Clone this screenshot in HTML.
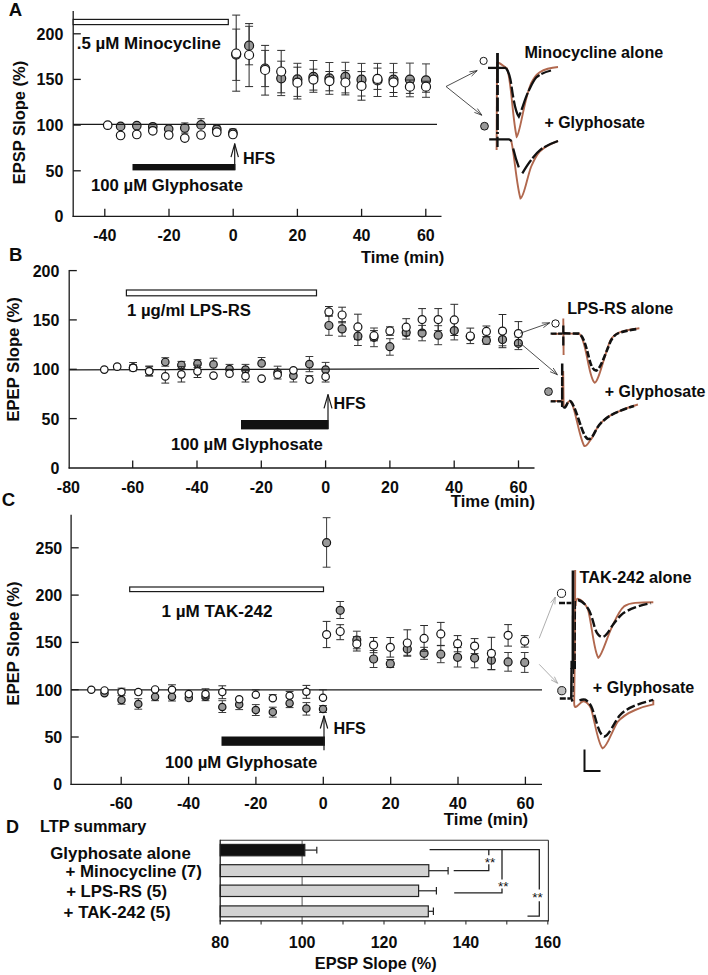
<!DOCTYPE html>
<html lang="en">
<head>
<meta charset="utf-8">
<title>Figure: LTP with minocycline, LPS-RS, TAK-242 and glyphosate</title>
<style>
html,body{margin:0;padding:0;background:#fff;}
body{width:708px;height:975px;overflow:hidden;}
svg{display:block;font-family:"Liberation Sans", Arial, Helvetica, sans-serif;}
svg text{font-family:"Liberation Sans", Arial, Helvetica, sans-serif;}
</style>
</head>
<body>
<svg width="708" height="975" viewBox="0 0 708 975">
<rect x="0" y="0" width="708" height="975" fill="#ffffff"/>
<text x="8.7" y="15.9" font-size="18.6" font-weight="bold" fill="#0c0c0c">A</text>
<line x1="73.2" y1="11.0" x2="73.2" y2="217.0" stroke="#1a1a1a" stroke-width="1.3" />
<line x1="72.6" y1="216.4" x2="441.5" y2="216.4" stroke="#1a1a1a" stroke-width="1.3" />
<text x="63.3" y="222.4" font-size="16" font-weight="bold" fill="#0c0c0c" text-anchor="end">0</text>
<line x1="73.2" y1="170.8" x2="80.8" y2="170.8" stroke="#1a1a1a" stroke-width="1.3" />
<text x="63.3" y="176.8" font-size="16" font-weight="bold" fill="#0c0c0c" text-anchor="end">50</text>
<line x1="73.2" y1="125.1" x2="80.8" y2="125.1" stroke="#1a1a1a" stroke-width="1.3" />
<text x="63.3" y="131.1" font-size="16" font-weight="bold" fill="#0c0c0c" text-anchor="end">100</text>
<line x1="73.2" y1="79.4" x2="80.8" y2="79.4" stroke="#1a1a1a" stroke-width="1.3" />
<text x="63.3" y="85.4" font-size="16" font-weight="bold" fill="#0c0c0c" text-anchor="end">150</text>
<line x1="73.2" y1="33.8" x2="80.8" y2="33.8" stroke="#1a1a1a" stroke-width="1.3" />
<text x="63.3" y="39.8" font-size="16" font-weight="bold" fill="#0c0c0c" text-anchor="end">200</text>
<line x1="104.8" y1="216.4" x2="104.8" y2="208.8" stroke="#1a1a1a" stroke-width="1.3" />
<text x="104.8" y="241.2" font-size="16" font-weight="bold" fill="#0c0c0c" text-anchor="middle">-40</text>
<line x1="169.0" y1="216.4" x2="169.0" y2="208.8" stroke="#1a1a1a" stroke-width="1.3" />
<text x="169.0" y="241.2" font-size="16" font-weight="bold" fill="#0c0c0c" text-anchor="middle">-20</text>
<line x1="233.2" y1="216.4" x2="233.2" y2="208.8" stroke="#1a1a1a" stroke-width="1.3" />
<text x="233.2" y="241.2" font-size="16" font-weight="bold" fill="#0c0c0c" text-anchor="middle">0</text>
<line x1="297.4" y1="216.4" x2="297.4" y2="208.8" stroke="#1a1a1a" stroke-width="1.3" />
<text x="297.4" y="241.2" font-size="16" font-weight="bold" fill="#0c0c0c" text-anchor="middle">20</text>
<line x1="361.6" y1="216.4" x2="361.6" y2="208.8" stroke="#1a1a1a" stroke-width="1.3" />
<text x="361.6" y="241.2" font-size="16" font-weight="bold" fill="#0c0c0c" text-anchor="middle">40</text>
<line x1="425.8" y1="216.4" x2="425.8" y2="208.8" stroke="#1a1a1a" stroke-width="1.3" />
<text x="425.8" y="241.2" font-size="16" font-weight="bold" fill="#0c0c0c" text-anchor="middle">60</text>
<text x="25.1" y="184.2" font-size="16.8" font-weight="bold" fill="#0c0c0c" textLength="123.5" lengthAdjust="spacingAndGlyphs" transform="rotate(-90 25.1 184.2)">EPSP Slope (%)</text>
<text x="360.9" y="262.7" font-size="17.0" font-weight="bold" fill="#0c0c0c" textLength="83.4" lengthAdjust="spacingAndGlyphs">Time (min)</text>
<rect x="73.2" y="19.4" width="155.1" height="5.2" fill="#fff" stroke="#1a1a1a" stroke-width="1.2"/>
<text x="76.8" y="49.3" font-size="17.2" font-weight="bold" fill="#0c0c0c" textLength="144.0" lengthAdjust="spacingAndGlyphs">.5 µM Minocycline</text>
<rect x="132.5" y="164.0" width="102.9" height="6.4" fill="#111"/>
<text x="91.0" y="191.0" font-size="17.2" font-weight="bold" fill="#0c0c0c" textLength="152.0" lengthAdjust="spacingAndGlyphs">100 µM Glyphosate</text>
<line x1="234.7" y1="170.0" x2="234.7" y2="143.6" stroke="#1a1a1a" stroke-width="1.2" />
<path d="M231.0 157.2 L234.7 143.8 L238.4 157.2" stroke="#1a1a1a" stroke-width="1.2" fill="none" stroke-linejoin="round"/>
<text x="243.0" y="163.8" font-size="17.2" font-weight="bold" fill="#0c0c0c" textLength="32.2" lengthAdjust="spacingAndGlyphs">HFS</text>
<line x1="184.8" y1="122.9" x2="184.8" y2="133.1" stroke="#3a3a3a" stroke-width="1.0" />
<line x1="181.2" y1="122.9" x2="188.4" y2="122.9" stroke="#3a3a3a" stroke-width="1.0" />
<line x1="181.2" y1="133.1" x2="188.4" y2="133.1" stroke="#3a3a3a" stroke-width="1.0" />
<line x1="201.0" y1="118.7" x2="201.0" y2="124.9" stroke="#3a3a3a" stroke-width="1.0" />
<line x1="197.4" y1="118.7" x2="204.6" y2="118.7" stroke="#3a3a3a" stroke-width="1.0" />
<line x1="216.8" y1="125.7" x2="216.8" y2="129.3" stroke="#3a3a3a" stroke-width="1.0" />
<line x1="213.2" y1="125.7" x2="220.4" y2="125.7" stroke="#3a3a3a" stroke-width="1.0" />
<line x1="232.9" y1="129.0" x2="232.9" y2="132.8" stroke="#3a3a3a" stroke-width="1.0" />
<line x1="229.3" y1="129.0" x2="236.5" y2="129.0" stroke="#3a3a3a" stroke-width="1.0" />
<circle cx="120.6" cy="126.4" r="4.25" fill="#999" stroke="#151515" stroke-width="1.2"/>
<circle cx="136.8" cy="125.7" r="4.25" fill="#999" stroke="#151515" stroke-width="1.2"/>
<circle cx="152.8" cy="126.8" r="4.25" fill="#999" stroke="#151515" stroke-width="1.2"/>
<circle cx="168.7" cy="129.1" r="4.25" fill="#999" stroke="#151515" stroke-width="1.2"/>
<circle cx="184.8" cy="128.0" r="4.25" fill="#999" stroke="#151515" stroke-width="1.2"/>
<circle cx="201.0" cy="124.9" r="4.25" fill="#999" stroke="#151515" stroke-width="1.2"/>
<circle cx="216.8" cy="129.3" r="4.25" fill="#999" stroke="#151515" stroke-width="1.2"/>
<circle cx="232.9" cy="132.8" r="4.25" fill="#999" stroke="#151515" stroke-width="1.2"/>
<line x1="73.2" y1="124.4" x2="437.0" y2="124.4" stroke="#1a1a1a" stroke-width="1.2" />
<circle cx="107.7" cy="125.2" r="4.25" fill="#fff" stroke="#151515" stroke-width="1.2"/>
<circle cx="120.6" cy="135.5" r="4.25" fill="#fff" stroke="#151515" stroke-width="1.2"/>
<circle cx="136.8" cy="134.5" r="4.25" fill="#fff" stroke="#151515" stroke-width="1.2"/>
<circle cx="152.8" cy="130.8" r="4.25" fill="#fff" stroke="#151515" stroke-width="1.2"/>
<circle cx="168.7" cy="135.0" r="4.25" fill="#fff" stroke="#151515" stroke-width="1.2"/>
<circle cx="184.8" cy="138.1" r="4.25" fill="#fff" stroke="#151515" stroke-width="1.2"/>
<circle cx="201.0" cy="135.0" r="4.25" fill="#fff" stroke="#151515" stroke-width="1.2"/>
<circle cx="216.8" cy="132.2" r="4.25" fill="#fff" stroke="#151515" stroke-width="1.2"/>
<circle cx="232.9" cy="134.5" r="4.25" fill="#fff" stroke="#151515" stroke-width="1.2"/>
<line x1="236.2" y1="29.1" x2="236.2" y2="80.4" stroke="#3a3a3a" stroke-width="1.0" />
<line x1="232.2" y1="29.1" x2="240.2" y2="29.1" stroke="#3a3a3a" stroke-width="1.0" />
<line x1="232.2" y1="80.4" x2="240.2" y2="80.4" stroke="#3a3a3a" stroke-width="1.0" />
<line x1="249.1" y1="26.3" x2="249.1" y2="64.8" stroke="#3a3a3a" stroke-width="1.0" />
<line x1="245.1" y1="26.3" x2="253.1" y2="26.3" stroke="#3a3a3a" stroke-width="1.0" />
<line x1="245.1" y1="64.8" x2="253.1" y2="64.8" stroke="#3a3a3a" stroke-width="1.0" />
<line x1="265.1" y1="50.4" x2="265.1" y2="86.6" stroke="#3a3a3a" stroke-width="1.0" />
<line x1="261.1" y1="50.4" x2="269.1" y2="50.4" stroke="#3a3a3a" stroke-width="1.0" />
<line x1="261.1" y1="86.6" x2="269.1" y2="86.6" stroke="#3a3a3a" stroke-width="1.0" />
<line x1="281.2" y1="61.2" x2="281.2" y2="95.6" stroke="#3a3a3a" stroke-width="1.0" />
<line x1="277.2" y1="61.2" x2="285.2" y2="61.2" stroke="#3a3a3a" stroke-width="1.0" />
<line x1="277.2" y1="95.6" x2="285.2" y2="95.6" stroke="#3a3a3a" stroke-width="1.0" />
<line x1="297.4" y1="63.3" x2="297.4" y2="96.4" stroke="#3a3a3a" stroke-width="1.0" />
<line x1="293.4" y1="63.3" x2="301.4" y2="63.3" stroke="#3a3a3a" stroke-width="1.0" />
<line x1="293.4" y1="96.4" x2="301.4" y2="96.4" stroke="#3a3a3a" stroke-width="1.0" />
<line x1="313.4" y1="60.5" x2="313.4" y2="92.3" stroke="#3a3a3a" stroke-width="1.0" />
<line x1="309.4" y1="60.5" x2="317.4" y2="60.5" stroke="#3a3a3a" stroke-width="1.0" />
<line x1="309.4" y1="92.3" x2="317.4" y2="92.3" stroke="#3a3a3a" stroke-width="1.0" />
<line x1="329.4" y1="62.5" x2="329.4" y2="94.3" stroke="#3a3a3a" stroke-width="1.0" />
<line x1="325.4" y1="62.5" x2="333.4" y2="62.5" stroke="#3a3a3a" stroke-width="1.0" />
<line x1="325.4" y1="94.3" x2="333.4" y2="94.3" stroke="#3a3a3a" stroke-width="1.0" />
<line x1="345.4" y1="62.3" x2="345.4" y2="92.9" stroke="#3a3a3a" stroke-width="1.0" />
<line x1="341.4" y1="62.3" x2="349.4" y2="62.3" stroke="#3a3a3a" stroke-width="1.0" />
<line x1="341.4" y1="92.9" x2="349.4" y2="92.9" stroke="#3a3a3a" stroke-width="1.0" />
<line x1="361.5" y1="63.4" x2="361.5" y2="96.0" stroke="#3a3a3a" stroke-width="1.0" />
<line x1="357.5" y1="63.4" x2="365.5" y2="63.4" stroke="#3a3a3a" stroke-width="1.0" />
<line x1="357.5" y1="96.0" x2="365.5" y2="96.0" stroke="#3a3a3a" stroke-width="1.0" />
<line x1="377.5" y1="63.4" x2="377.5" y2="96.5" stroke="#3a3a3a" stroke-width="1.0" />
<line x1="373.5" y1="63.4" x2="381.5" y2="63.4" stroke="#3a3a3a" stroke-width="1.0" />
<line x1="373.5" y1="96.5" x2="381.5" y2="96.5" stroke="#3a3a3a" stroke-width="1.0" />
<line x1="393.5" y1="63.4" x2="393.5" y2="96.5" stroke="#3a3a3a" stroke-width="1.0" />
<line x1="389.5" y1="63.4" x2="397.5" y2="63.4" stroke="#3a3a3a" stroke-width="1.0" />
<line x1="389.5" y1="96.5" x2="397.5" y2="96.5" stroke="#3a3a3a" stroke-width="1.0" />
<line x1="409.9" y1="63.1" x2="409.9" y2="96.8" stroke="#3a3a3a" stroke-width="1.0" />
<line x1="405.9" y1="63.1" x2="413.9" y2="63.1" stroke="#3a3a3a" stroke-width="1.0" />
<line x1="405.9" y1="96.8" x2="413.9" y2="96.8" stroke="#3a3a3a" stroke-width="1.0" />
<line x1="426.0" y1="63.9" x2="426.0" y2="97.3" stroke="#3a3a3a" stroke-width="1.0" />
<line x1="422.0" y1="63.9" x2="430.0" y2="63.9" stroke="#3a3a3a" stroke-width="1.0" />
<line x1="422.0" y1="97.3" x2="430.0" y2="97.3" stroke="#3a3a3a" stroke-width="1.0" />
<circle cx="236.2" cy="54.6" r="4.5" fill="#999" stroke="#151515" stroke-width="1.2"/>
<circle cx="249.1" cy="45.7" r="4.5" fill="#999" stroke="#151515" stroke-width="1.2"/>
<circle cx="265.1" cy="68.5" r="4.5" fill="#999" stroke="#151515" stroke-width="1.2"/>
<circle cx="281.2" cy="78.3" r="4.5" fill="#999" stroke="#151515" stroke-width="1.2"/>
<circle cx="297.4" cy="79.4" r="4.5" fill="#999" stroke="#151515" stroke-width="1.2"/>
<circle cx="313.4" cy="76.9" r="4.5" fill="#999" stroke="#151515" stroke-width="1.2"/>
<circle cx="329.4" cy="78.3" r="4.5" fill="#999" stroke="#151515" stroke-width="1.2"/>
<circle cx="345.4" cy="76.8" r="4.5" fill="#999" stroke="#151515" stroke-width="1.2"/>
<circle cx="361.5" cy="79.7" r="4.5" fill="#999" stroke="#151515" stroke-width="1.2"/>
<circle cx="377.5" cy="80.4" r="4.5" fill="#999" stroke="#151515" stroke-width="1.2"/>
<circle cx="393.5" cy="79.6" r="4.5" fill="#999" stroke="#151515" stroke-width="1.2"/>
<circle cx="409.9" cy="79.6" r="4.5" fill="#999" stroke="#151515" stroke-width="1.2"/>
<circle cx="426.0" cy="80.3" r="4.5" fill="#999" stroke="#151515" stroke-width="1.2"/>
<line x1="236.2" y1="15.1" x2="236.2" y2="91.2" stroke="#2a2a2a" stroke-width="1.0" />
<line x1="232.2" y1="15.1" x2="240.2" y2="15.1" stroke="#2a2a2a" stroke-width="1.0" />
<line x1="232.2" y1="91.2" x2="240.2" y2="91.2" stroke="#2a2a2a" stroke-width="1.0" />
<line x1="249.1" y1="23.6" x2="249.1" y2="86.6" stroke="#2a2a2a" stroke-width="1.0" />
<line x1="245.1" y1="23.6" x2="253.1" y2="23.6" stroke="#2a2a2a" stroke-width="1.0" />
<line x1="245.1" y1="86.6" x2="253.1" y2="86.6" stroke="#2a2a2a" stroke-width="1.0" />
<line x1="265.1" y1="45.4" x2="265.1" y2="95.1" stroke="#2a2a2a" stroke-width="1.0" />
<line x1="261.1" y1="45.4" x2="269.1" y2="45.4" stroke="#2a2a2a" stroke-width="1.0" />
<line x1="261.1" y1="95.1" x2="269.1" y2="95.1" stroke="#2a2a2a" stroke-width="1.0" />
<line x1="281.2" y1="50.4" x2="281.2" y2="92.8" stroke="#2a2a2a" stroke-width="1.0" />
<line x1="277.2" y1="50.4" x2="285.2" y2="50.4" stroke="#2a2a2a" stroke-width="1.0" />
<line x1="277.2" y1="92.8" x2="285.2" y2="92.8" stroke="#2a2a2a" stroke-width="1.0" />
<line x1="297.4" y1="67.2" x2="297.4" y2="99.0" stroke="#2a2a2a" stroke-width="1.0" />
<line x1="293.4" y1="67.2" x2="301.4" y2="67.2" stroke="#2a2a2a" stroke-width="1.0" />
<line x1="293.4" y1="99.0" x2="301.4" y2="99.0" stroke="#2a2a2a" stroke-width="1.0" />
<line x1="313.4" y1="69.2" x2="313.4" y2="90.1" stroke="#2a2a2a" stroke-width="1.0" />
<line x1="309.4" y1="69.2" x2="317.4" y2="69.2" stroke="#2a2a2a" stroke-width="1.0" />
<line x1="309.4" y1="90.1" x2="317.4" y2="90.1" stroke="#2a2a2a" stroke-width="1.0" />
<line x1="329.4" y1="71.5" x2="329.4" y2="90.8" stroke="#2a2a2a" stroke-width="1.0" />
<line x1="325.4" y1="71.5" x2="333.4" y2="71.5" stroke="#2a2a2a" stroke-width="1.0" />
<line x1="325.4" y1="90.8" x2="333.4" y2="90.8" stroke="#2a2a2a" stroke-width="1.0" />
<line x1="345.4" y1="70.7" x2="345.4" y2="94.9" stroke="#2a2a2a" stroke-width="1.0" />
<line x1="341.4" y1="70.7" x2="349.4" y2="70.7" stroke="#2a2a2a" stroke-width="1.0" />
<line x1="341.4" y1="94.9" x2="349.4" y2="94.9" stroke="#2a2a2a" stroke-width="1.0" />
<line x1="361.5" y1="71.6" x2="361.5" y2="100.2" stroke="#2a2a2a" stroke-width="1.0" />
<line x1="357.5" y1="71.6" x2="365.5" y2="71.6" stroke="#2a2a2a" stroke-width="1.0" />
<line x1="357.5" y1="100.2" x2="365.5" y2="100.2" stroke="#2a2a2a" stroke-width="1.0" />
<line x1="377.5" y1="68.1" x2="377.5" y2="89.4" stroke="#2a2a2a" stroke-width="1.0" />
<line x1="373.5" y1="68.1" x2="381.5" y2="68.1" stroke="#2a2a2a" stroke-width="1.0" />
<line x1="373.5" y1="89.4" x2="381.5" y2="89.4" stroke="#2a2a2a" stroke-width="1.0" />
<line x1="393.5" y1="72.7" x2="393.5" y2="92.5" stroke="#2a2a2a" stroke-width="1.0" />
<line x1="389.5" y1="72.7" x2="397.5" y2="72.7" stroke="#2a2a2a" stroke-width="1.0" />
<line x1="389.5" y1="92.5" x2="397.5" y2="92.5" stroke="#2a2a2a" stroke-width="1.0" />
<line x1="409.9" y1="80.0" x2="409.9" y2="93.4" stroke="#2a2a2a" stroke-width="1.0" />
<line x1="405.9" y1="80.0" x2="413.9" y2="80.0" stroke="#2a2a2a" stroke-width="1.0" />
<line x1="405.9" y1="93.4" x2="413.9" y2="93.4" stroke="#2a2a2a" stroke-width="1.0" />
<line x1="426.0" y1="81.2" x2="426.0" y2="92.2" stroke="#2a2a2a" stroke-width="1.0" />
<line x1="422.0" y1="81.2" x2="430.0" y2="81.2" stroke="#2a2a2a" stroke-width="1.0" />
<line x1="422.0" y1="92.2" x2="430.0" y2="92.2" stroke="#2a2a2a" stroke-width="1.0" />
<circle cx="236.2" cy="53.5" r="4.5" fill="#fff" stroke="#151515" stroke-width="1.2"/>
<circle cx="249.1" cy="55.0" r="4.5" fill="#fff" stroke="#151515" stroke-width="1.2"/>
<circle cx="265.1" cy="70.0" r="4.5" fill="#fff" stroke="#151515" stroke-width="1.2"/>
<circle cx="281.2" cy="71.5" r="4.5" fill="#fff" stroke="#151515" stroke-width="1.2"/>
<circle cx="297.4" cy="82.7" r="4.5" fill="#fff" stroke="#151515" stroke-width="1.2"/>
<circle cx="313.4" cy="79.6" r="4.5" fill="#fff" stroke="#151515" stroke-width="1.2"/>
<circle cx="329.4" cy="81.1" r="4.5" fill="#fff" stroke="#151515" stroke-width="1.2"/>
<circle cx="345.4" cy="82.5" r="4.5" fill="#fff" stroke="#151515" stroke-width="1.2"/>
<circle cx="361.5" cy="85.9" r="4.5" fill="#fff" stroke="#151515" stroke-width="1.2"/>
<circle cx="377.5" cy="78.9" r="4.5" fill="#fff" stroke="#151515" stroke-width="1.2"/>
<circle cx="393.5" cy="82.3" r="4.5" fill="#fff" stroke="#151515" stroke-width="1.2"/>
<circle cx="409.9" cy="86.7" r="4.5" fill="#fff" stroke="#151515" stroke-width="1.2"/>
<circle cx="426.0" cy="86.7" r="4.5" fill="#fff" stroke="#151515" stroke-width="1.2"/>
<line x1="446.0" y1="86.5" x2="477.2" y2="70.6" stroke="#222" stroke-width="0.8" />
<line x1="471.6" y1="76.1" x2="477.2" y2="70.6" stroke="#222" stroke-width="0.8" />
<line x1="469.4" y1="71.9" x2="477.2" y2="70.6" stroke="#222" stroke-width="0.8" />
<line x1="446.0" y1="86.5" x2="481.8" y2="115.2" stroke="#222" stroke-width="0.8" />
<line x1="474.4" y1="112.4" x2="481.8" y2="115.2" stroke="#222" stroke-width="0.8" />
<line x1="477.4" y1="108.6" x2="481.8" y2="115.2" stroke="#222" stroke-width="0.8" />
<circle cx="483.6" cy="60.9" r="3.6" fill="#fff" stroke="#151515" stroke-width="1.0"/>
<circle cx="484.5" cy="126.2" r="3.9" fill="#999" stroke="#151515" stroke-width="1.0"/>
<text x="524.4" y="57.7" font-size="17.2" font-weight="bold" fill="#0c0c0c" textLength="138.8" lengthAdjust="spacingAndGlyphs">Minocycline alone</text>
<text x="544.4" y="127.7" font-size="17.2" font-weight="bold" fill="#0c0c0c" textLength="100.6" lengthAdjust="spacingAndGlyphs">+ Glyphosate</text>
<path d="M497 62 L496.6 150" stroke="#b1684e" stroke-width="1.9" fill="none" />
<path d="M498 62.5 C501 63.5 504 66.5 506.5 68 C511 74 512.5 120 516.7 136.7 C520 134 524 100 531 83.5 C534 77 537 74 539.7 72.2 C545 69 551 67.6 558 67" stroke="#b1684e" stroke-width="1.9" fill="none" />
<path d="M488 67.9 L506 67.9" stroke="#111" stroke-width="2.3" fill="none" />
<path d="M497.5 53 L497.5 134" stroke="#111" stroke-width="2.8" fill="none" stroke-dasharray="30 2 10 2.5 14 2.5 16 2"/>
<path d="M506 68 C509 72 510.5 78 511.5 86 C513.5 100 515.5 112 518.8 116.7 C522 110 525 98 529.2 89.7 C531.5 85 533.5 80.5 536.2 77.5 C540 74 545 72 551 70.5" stroke="#111" stroke-width="2.3" fill="none" stroke-dasharray="17 2.5 11 3 22 2.5 18 2 20 2"/>
<path d="M511 140 C514 150 516.5 186 520.5 198.5 C524 197 527 178 531 167 C534 160 536.5 155 539.7 151.5 C545 146.5 551 143.5 558 141" stroke="#b1684e" stroke-width="1.9" fill="none" />
<path d="M489.2 139.3 L509 139.3 C510.5 139.6 511 140.3 511.4 141.5" stroke="#111" stroke-width="2.3" fill="none" />
<path d="M497.5 136.7 L497.5 147" stroke="#111" stroke-width="2.3" fill="none" />
<path d="M513.2 148.5 C515 156 516.8 162 518.8 167.4" stroke="#111" stroke-width="2.3" fill="none" />
<path d="M522.3 173.3 C525 168.8 528 163.8 531 160.2 C534 156 537.5 152 541.4 148.9 C546.5 145.7 552 143 558 141" stroke="#111" stroke-width="2.3" fill="none" stroke-dasharray="16 2.2 14 2.2 30"/>
<text x="8.9" y="261.2" font-size="18.6" font-weight="bold" fill="#0c0c0c">B</text>
<line x1="69.2" y1="270.0" x2="69.2" y2="468.6" stroke="#1a1a1a" stroke-width="1.3" />
<line x1="68.6" y1="468.0" x2="534.5" y2="468.0" stroke="#1a1a1a" stroke-width="1.3" />
<text x="59.4" y="473.9" font-size="16" font-weight="bold" fill="#0c0c0c" text-anchor="end">0</text>
<line x1="69.2" y1="418.6" x2="76.8" y2="418.6" stroke="#1a1a1a" stroke-width="1.3" />
<text x="59.4" y="424.5" font-size="16" font-weight="bold" fill="#0c0c0c" text-anchor="end">50</text>
<line x1="69.2" y1="369.3" x2="76.8" y2="369.3" stroke="#1a1a1a" stroke-width="1.3" />
<text x="59.4" y="375.2" font-size="16" font-weight="bold" fill="#0c0c0c" text-anchor="end">100</text>
<line x1="69.2" y1="319.9" x2="76.8" y2="319.9" stroke="#1a1a1a" stroke-width="1.3" />
<text x="59.4" y="325.8" font-size="16" font-weight="bold" fill="#0c0c0c" text-anchor="end">150</text>
<line x1="69.2" y1="270.6" x2="76.8" y2="270.6" stroke="#1a1a1a" stroke-width="1.3" />
<text x="59.4" y="276.5" font-size="16" font-weight="bold" fill="#0c0c0c" text-anchor="end">200</text>
<text x="68.4" y="492.6" font-size="16" font-weight="bold" fill="#0c0c0c" text-anchor="middle">-80</text>
<line x1="132.7" y1="468.0" x2="132.7" y2="460.4" stroke="#1a1a1a" stroke-width="1.3" />
<text x="132.7" y="492.6" font-size="16" font-weight="bold" fill="#0c0c0c" text-anchor="middle">-60</text>
<line x1="197.0" y1="468.0" x2="197.0" y2="460.4" stroke="#1a1a1a" stroke-width="1.3" />
<text x="197.0" y="492.6" font-size="16" font-weight="bold" fill="#0c0c0c" text-anchor="middle">-40</text>
<line x1="261.3" y1="468.0" x2="261.3" y2="460.4" stroke="#1a1a1a" stroke-width="1.3" />
<text x="261.3" y="492.6" font-size="16" font-weight="bold" fill="#0c0c0c" text-anchor="middle">-20</text>
<line x1="325.6" y1="468.0" x2="325.6" y2="460.4" stroke="#1a1a1a" stroke-width="1.3" />
<text x="325.6" y="492.6" font-size="16" font-weight="bold" fill="#0c0c0c" text-anchor="middle">0</text>
<line x1="389.9" y1="468.0" x2="389.9" y2="460.4" stroke="#1a1a1a" stroke-width="1.3" />
<text x="389.9" y="492.6" font-size="16" font-weight="bold" fill="#0c0c0c" text-anchor="middle">20</text>
<line x1="454.2" y1="468.0" x2="454.2" y2="460.4" stroke="#1a1a1a" stroke-width="1.3" />
<text x="454.2" y="492.6" font-size="16" font-weight="bold" fill="#0c0c0c" text-anchor="middle">40</text>
<line x1="518.5" y1="468.0" x2="518.5" y2="460.4" stroke="#1a1a1a" stroke-width="1.3" />
<text x="518.5" y="492.6" font-size="16" font-weight="bold" fill="#0c0c0c" text-anchor="middle">60</text>
<text x="19.2" y="421.6" font-size="16.8" font-weight="bold" fill="#0c0c0c" textLength="124.4" lengthAdjust="spacingAndGlyphs" transform="rotate(-90 19.2 421.6)">EPEP Slope (%)</text>
<text x="450.8" y="507.2" font-size="17.0" font-weight="bold" fill="#0c0c0c" textLength="84.2" lengthAdjust="spacingAndGlyphs">Time (min)</text>
<rect x="126.4" y="290.0" width="190.1" height="5.8" fill="#fff" stroke="#1a1a1a" stroke-width="1.2"/>
<text x="127.0" y="315.6" font-size="17.2" font-weight="bold" fill="#0c0c0c" textLength="124.0" lengthAdjust="spacingAndGlyphs">1 µg/ml LPS-RS</text>
<rect x="241.0" y="420.0" width="87.5" height="9.4" fill="#111"/>
<text x="171.0" y="450.3" font-size="17.2" font-weight="bold" fill="#0c0c0c" textLength="151.9" lengthAdjust="spacingAndGlyphs">100 µM Glyphosate</text>
<line x1="328.0" y1="429.0" x2="328.0" y2="394.5" stroke="#1a1a1a" stroke-width="1.2" />
<path d="M324.0 408.4 L328 394.7 L332.0 408.4" stroke="#1a1a1a" stroke-width="1.2" fill="none" stroke-linejoin="round"/>
<text x="333.6" y="409.0" font-size="17.2" font-weight="bold" fill="#0c0c0c" textLength="32.3" lengthAdjust="spacingAndGlyphs">HFS</text>
<line x1="133.1" y1="362.5" x2="133.1" y2="367.5" stroke="#3a3a3a" stroke-width="1.0" />
<line x1="129.2" y1="362.5" x2="137.0" y2="362.5" stroke="#3a3a3a" stroke-width="1.0" />
<line x1="149.2" y1="366.0" x2="149.2" y2="376.0" stroke="#3a3a3a" stroke-width="1.0" />
<line x1="145.3" y1="366.0" x2="153.1" y2="366.0" stroke="#3a3a3a" stroke-width="1.0" />
<line x1="145.3" y1="376.0" x2="153.1" y2="376.0" stroke="#3a3a3a" stroke-width="1.0" />
<line x1="165.3" y1="357.7" x2="165.3" y2="366.2" stroke="#3a3a3a" stroke-width="1.0" />
<line x1="161.4" y1="357.7" x2="169.2" y2="357.7" stroke="#3a3a3a" stroke-width="1.0" />
<line x1="161.4" y1="366.2" x2="169.2" y2="366.2" stroke="#3a3a3a" stroke-width="1.0" />
<line x1="181.4" y1="361.4" x2="181.4" y2="368.6" stroke="#3a3a3a" stroke-width="1.0" />
<line x1="177.5" y1="361.4" x2="185.3" y2="361.4" stroke="#3a3a3a" stroke-width="1.0" />
<line x1="177.5" y1="368.6" x2="185.3" y2="368.6" stroke="#3a3a3a" stroke-width="1.0" />
<line x1="197.5" y1="359.7" x2="197.5" y2="367.5" stroke="#3a3a3a" stroke-width="1.0" />
<line x1="193.6" y1="359.7" x2="201.4" y2="359.7" stroke="#3a3a3a" stroke-width="1.0" />
<line x1="193.6" y1="367.5" x2="201.4" y2="367.5" stroke="#3a3a3a" stroke-width="1.0" />
<line x1="213.5" y1="358.2" x2="213.5" y2="364.4" stroke="#3a3a3a" stroke-width="1.0" />
<line x1="209.6" y1="358.2" x2="217.4" y2="358.2" stroke="#3a3a3a" stroke-width="1.0" />
<line x1="229.5" y1="364.4" x2="229.5" y2="369.1" stroke="#3a3a3a" stroke-width="1.0" />
<line x1="225.6" y1="364.4" x2="233.4" y2="364.4" stroke="#3a3a3a" stroke-width="1.0" />
<line x1="245.5" y1="364.4" x2="245.5" y2="369.7" stroke="#3a3a3a" stroke-width="1.0" />
<line x1="241.6" y1="364.4" x2="249.4" y2="364.4" stroke="#3a3a3a" stroke-width="1.0" />
<line x1="261.6" y1="357.5" x2="261.6" y2="363.4" stroke="#3a3a3a" stroke-width="1.0" />
<line x1="257.7" y1="357.5" x2="265.5" y2="357.5" stroke="#3a3a3a" stroke-width="1.0" />
<line x1="277.6" y1="366.2" x2="277.6" y2="372.7" stroke="#3a3a3a" stroke-width="1.0" />
<line x1="273.7" y1="366.2" x2="281.5" y2="366.2" stroke="#3a3a3a" stroke-width="1.0" />
<line x1="293.4" y1="375.7" x2="293.4" y2="382.0" stroke="#3a3a3a" stroke-width="1.0" />
<line x1="289.5" y1="382.0" x2="297.3" y2="382.0" stroke="#3a3a3a" stroke-width="1.0" />
<line x1="309.4" y1="356.5" x2="309.4" y2="371.7" stroke="#3a3a3a" stroke-width="1.0" />
<line x1="305.5" y1="356.5" x2="313.3" y2="356.5" stroke="#3a3a3a" stroke-width="1.0" />
<line x1="305.5" y1="371.7" x2="313.3" y2="371.7" stroke="#3a3a3a" stroke-width="1.0" />
<line x1="325.6" y1="362.4" x2="325.6" y2="369.7" stroke="#3a3a3a" stroke-width="1.0" />
<line x1="321.7" y1="362.4" x2="329.5" y2="362.4" stroke="#3a3a3a" stroke-width="1.0" />
<circle cx="133.1" cy="367.5" r="3.75" fill="#999" stroke="#151515" stroke-width="1.2"/>
<circle cx="149.2" cy="371.0" r="3.75" fill="#999" stroke="#151515" stroke-width="1.2"/>
<circle cx="165.3" cy="362.0" r="3.75" fill="#999" stroke="#151515" stroke-width="1.2"/>
<circle cx="181.4" cy="365.0" r="3.75" fill="#999" stroke="#151515" stroke-width="1.2"/>
<circle cx="197.5" cy="363.6" r="3.75" fill="#999" stroke="#151515" stroke-width="1.2"/>
<circle cx="213.5" cy="364.4" r="3.75" fill="#999" stroke="#151515" stroke-width="1.2"/>
<circle cx="229.5" cy="369.1" r="3.75" fill="#999" stroke="#151515" stroke-width="1.2"/>
<circle cx="245.5" cy="369.7" r="3.75" fill="#999" stroke="#151515" stroke-width="1.2"/>
<circle cx="261.6" cy="363.4" r="3.75" fill="#999" stroke="#151515" stroke-width="1.2"/>
<circle cx="277.6" cy="372.7" r="3.75" fill="#999" stroke="#151515" stroke-width="1.2"/>
<circle cx="293.4" cy="375.7" r="3.75" fill="#999" stroke="#151515" stroke-width="1.2"/>
<circle cx="309.4" cy="364.2" r="3.75" fill="#999" stroke="#151515" stroke-width="1.2"/>
<circle cx="325.6" cy="369.7" r="3.75" fill="#999" stroke="#151515" stroke-width="1.2"/>
<line x1="69.2" y1="369.8" x2="539.0" y2="368.5" stroke="#1a1a1a" stroke-width="1.2" />
<line x1="133.1" y1="364.9" x2="133.1" y2="370.9" stroke="#2a2a2a" stroke-width="1.0" />
<line x1="129.2" y1="364.9" x2="137.0" y2="364.9" stroke="#2a2a2a" stroke-width="1.0" />
<line x1="129.2" y1="370.9" x2="137.0" y2="370.9" stroke="#2a2a2a" stroke-width="1.0" />
<line x1="149.2" y1="366.7" x2="149.2" y2="375.8" stroke="#2a2a2a" stroke-width="1.0" />
<line x1="145.3" y1="366.7" x2="153.1" y2="366.7" stroke="#2a2a2a" stroke-width="1.0" />
<line x1="145.3" y1="375.8" x2="153.1" y2="375.8" stroke="#2a2a2a" stroke-width="1.0" />
<line x1="165.3" y1="369.7" x2="165.3" y2="383.1" stroke="#2a2a2a" stroke-width="1.0" />
<line x1="161.4" y1="369.7" x2="169.2" y2="369.7" stroke="#2a2a2a" stroke-width="1.0" />
<line x1="161.4" y1="383.1" x2="169.2" y2="383.1" stroke="#2a2a2a" stroke-width="1.0" />
<line x1="181.4" y1="366.6" x2="181.4" y2="382.0" stroke="#2a2a2a" stroke-width="1.0" />
<line x1="177.5" y1="366.6" x2="185.3" y2="366.6" stroke="#2a2a2a" stroke-width="1.0" />
<line x1="177.5" y1="382.0" x2="185.3" y2="382.0" stroke="#2a2a2a" stroke-width="1.0" />
<line x1="197.5" y1="365.1" x2="197.5" y2="377.5" stroke="#2a2a2a" stroke-width="1.0" />
<line x1="193.6" y1="365.1" x2="201.4" y2="365.1" stroke="#2a2a2a" stroke-width="1.0" />
<line x1="193.6" y1="377.5" x2="201.4" y2="377.5" stroke="#2a2a2a" stroke-width="1.0" />
<line x1="245.5" y1="370.4" x2="245.5" y2="382.0" stroke="#2a2a2a" stroke-width="1.0" />
<line x1="241.6" y1="370.4" x2="249.4" y2="370.4" stroke="#2a2a2a" stroke-width="1.0" />
<line x1="241.6" y1="382.0" x2="249.4" y2="382.0" stroke="#2a2a2a" stroke-width="1.0" />
<line x1="277.6" y1="369.7" x2="277.6" y2="379.0" stroke="#2a2a2a" stroke-width="1.0" />
<line x1="273.7" y1="369.7" x2="281.5" y2="369.7" stroke="#2a2a2a" stroke-width="1.0" />
<line x1="273.7" y1="379.0" x2="281.5" y2="379.0" stroke="#2a2a2a" stroke-width="1.0" />
<line x1="309.4" y1="375.7" x2="309.4" y2="379.6" stroke="#2a2a2a" stroke-width="1.0" />
<line x1="305.5" y1="375.7" x2="313.3" y2="375.7" stroke="#2a2a2a" stroke-width="1.0" />
<line x1="325.6" y1="376.7" x2="325.6" y2="382.0" stroke="#2a2a2a" stroke-width="1.0" />
<line x1="321.7" y1="382.0" x2="329.5" y2="382.0" stroke="#2a2a2a" stroke-width="1.0" />
<circle cx="104.3" cy="369.6" r="3.75" fill="#fff" stroke="#151515" stroke-width="1.2"/>
<circle cx="117.2" cy="366.7" r="3.75" fill="#fff" stroke="#151515" stroke-width="1.2"/>
<circle cx="133.1" cy="367.9" r="3.75" fill="#fff" stroke="#151515" stroke-width="1.2"/>
<circle cx="149.2" cy="371.3" r="3.75" fill="#fff" stroke="#151515" stroke-width="1.2"/>
<circle cx="165.3" cy="376.4" r="3.75" fill="#fff" stroke="#151515" stroke-width="1.2"/>
<circle cx="181.4" cy="374.3" r="3.75" fill="#fff" stroke="#151515" stroke-width="1.2"/>
<circle cx="197.5" cy="371.3" r="3.75" fill="#fff" stroke="#151515" stroke-width="1.2"/>
<circle cx="213.5" cy="375.6" r="3.75" fill="#fff" stroke="#151515" stroke-width="1.2"/>
<circle cx="229.5" cy="373.7" r="3.75" fill="#fff" stroke="#151515" stroke-width="1.2"/>
<circle cx="245.5" cy="376.2" r="3.75" fill="#fff" stroke="#151515" stroke-width="1.2"/>
<circle cx="261.6" cy="378.6" r="3.75" fill="#fff" stroke="#151515" stroke-width="1.2"/>
<circle cx="277.6" cy="374.7" r="3.75" fill="#fff" stroke="#151515" stroke-width="1.2"/>
<circle cx="293.4" cy="370.3" r="3.75" fill="#fff" stroke="#151515" stroke-width="1.2"/>
<circle cx="309.4" cy="379.6" r="3.75" fill="#fff" stroke="#151515" stroke-width="1.2"/>
<circle cx="325.6" cy="376.7" r="3.75" fill="#fff" stroke="#151515" stroke-width="1.2"/>
<line x1="328.9" y1="315.7" x2="328.9" y2="335.3" stroke="#3a3a3a" stroke-width="1.0" />
<line x1="325.0" y1="315.7" x2="332.8" y2="315.7" stroke="#3a3a3a" stroke-width="1.0" />
<line x1="325.0" y1="335.3" x2="332.8" y2="335.3" stroke="#3a3a3a" stroke-width="1.0" />
<line x1="342.1" y1="321.6" x2="342.1" y2="336.2" stroke="#3a3a3a" stroke-width="1.0" />
<line x1="338.2" y1="321.6" x2="346.0" y2="321.6" stroke="#3a3a3a" stroke-width="1.0" />
<line x1="338.2" y1="336.2" x2="346.0" y2="336.2" stroke="#3a3a3a" stroke-width="1.0" />
<line x1="357.9" y1="326.9" x2="357.9" y2="345.5" stroke="#3a3a3a" stroke-width="1.0" />
<line x1="354.0" y1="326.9" x2="361.8" y2="326.9" stroke="#3a3a3a" stroke-width="1.0" />
<line x1="354.0" y1="345.5" x2="361.8" y2="345.5" stroke="#3a3a3a" stroke-width="1.0" />
<line x1="374.0" y1="328.0" x2="374.0" y2="346.7" stroke="#3a3a3a" stroke-width="1.0" />
<line x1="370.1" y1="328.0" x2="377.9" y2="328.0" stroke="#3a3a3a" stroke-width="1.0" />
<line x1="370.1" y1="346.7" x2="377.9" y2="346.7" stroke="#3a3a3a" stroke-width="1.0" />
<line x1="389.9" y1="338.7" x2="389.9" y2="355.2" stroke="#3a3a3a" stroke-width="1.0" />
<line x1="386.0" y1="338.7" x2="393.8" y2="338.7" stroke="#3a3a3a" stroke-width="1.0" />
<line x1="386.0" y1="355.2" x2="393.8" y2="355.2" stroke="#3a3a3a" stroke-width="1.0" />
<line x1="406.2" y1="326.1" x2="406.2" y2="339.1" stroke="#3a3a3a" stroke-width="1.0" />
<line x1="402.3" y1="326.1" x2="410.1" y2="326.1" stroke="#3a3a3a" stroke-width="1.0" />
<line x1="402.3" y1="339.1" x2="410.1" y2="339.1" stroke="#3a3a3a" stroke-width="1.0" />
<line x1="422.1" y1="325.4" x2="422.1" y2="340.8" stroke="#3a3a3a" stroke-width="1.0" />
<line x1="418.2" y1="325.4" x2="426.0" y2="325.4" stroke="#3a3a3a" stroke-width="1.0" />
<line x1="418.2" y1="340.8" x2="426.0" y2="340.8" stroke="#3a3a3a" stroke-width="1.0" />
<line x1="438.2" y1="325.7" x2="438.2" y2="344.7" stroke="#3a3a3a" stroke-width="1.0" />
<line x1="434.3" y1="325.7" x2="442.1" y2="325.7" stroke="#3a3a3a" stroke-width="1.0" />
<line x1="434.3" y1="344.7" x2="442.1" y2="344.7" stroke="#3a3a3a" stroke-width="1.0" />
<line x1="454.3" y1="321.3" x2="454.3" y2="339.9" stroke="#3a3a3a" stroke-width="1.0" />
<line x1="450.4" y1="321.3" x2="458.2" y2="321.3" stroke="#3a3a3a" stroke-width="1.0" />
<line x1="450.4" y1="339.9" x2="458.2" y2="339.9" stroke="#3a3a3a" stroke-width="1.0" />
<line x1="486.4" y1="336.6" x2="486.4" y2="344.2" stroke="#3a3a3a" stroke-width="1.0" />
<line x1="482.5" y1="336.6" x2="490.3" y2="336.6" stroke="#3a3a3a" stroke-width="1.0" />
<line x1="482.5" y1="344.2" x2="490.3" y2="344.2" stroke="#3a3a3a" stroke-width="1.0" />
<line x1="502.5" y1="333.4" x2="502.5" y2="345.8" stroke="#3a3a3a" stroke-width="1.0" />
<line x1="498.6" y1="333.4" x2="506.4" y2="333.4" stroke="#3a3a3a" stroke-width="1.0" />
<line x1="498.6" y1="345.8" x2="506.4" y2="345.8" stroke="#3a3a3a" stroke-width="1.0" />
<line x1="518.4" y1="337.0" x2="518.4" y2="349.6" stroke="#3a3a3a" stroke-width="1.0" />
<line x1="514.5" y1="337.0" x2="522.3" y2="337.0" stroke="#3a3a3a" stroke-width="1.0" />
<line x1="514.5" y1="349.6" x2="522.3" y2="349.6" stroke="#3a3a3a" stroke-width="1.0" />
<circle cx="328.9" cy="325.5" r="4.0" fill="#999" stroke="#151515" stroke-width="1.2"/>
<circle cx="342.1" cy="328.9" r="4.0" fill="#999" stroke="#151515" stroke-width="1.2"/>
<circle cx="357.9" cy="336.2" r="4.0" fill="#999" stroke="#151515" stroke-width="1.2"/>
<circle cx="374.0" cy="337.3" r="4.0" fill="#999" stroke="#151515" stroke-width="1.2"/>
<circle cx="389.9" cy="346.7" r="4.0" fill="#999" stroke="#151515" stroke-width="1.2"/>
<circle cx="406.2" cy="332.6" r="4.0" fill="#999" stroke="#151515" stroke-width="1.2"/>
<circle cx="422.1" cy="333.1" r="4.0" fill="#999" stroke="#151515" stroke-width="1.2"/>
<circle cx="438.2" cy="335.2" r="4.0" fill="#999" stroke="#151515" stroke-width="1.2"/>
<circle cx="454.3" cy="330.6" r="4.0" fill="#999" stroke="#151515" stroke-width="1.2"/>
<circle cx="470.3" cy="336.6" r="4.0" fill="#999" stroke="#151515" stroke-width="1.2"/>
<circle cx="486.4" cy="340.4" r="4.0" fill="#999" stroke="#151515" stroke-width="1.2"/>
<circle cx="502.5" cy="339.6" r="4.0" fill="#999" stroke="#151515" stroke-width="1.2"/>
<circle cx="518.4" cy="343.3" r="4.0" fill="#999" stroke="#151515" stroke-width="1.2"/>
<line x1="328.9" y1="306.5" x2="328.9" y2="316.2" stroke="#2a2a2a" stroke-width="1.0" />
<line x1="325.0" y1="306.5" x2="332.8" y2="306.5" stroke="#2a2a2a" stroke-width="1.0" />
<line x1="325.0" y1="316.2" x2="332.8" y2="316.2" stroke="#2a2a2a" stroke-width="1.0" />
<line x1="342.1" y1="307.2" x2="342.1" y2="322.8" stroke="#2a2a2a" stroke-width="1.0" />
<line x1="338.2" y1="307.2" x2="346.0" y2="307.2" stroke="#2a2a2a" stroke-width="1.0" />
<line x1="338.2" y1="322.8" x2="346.0" y2="322.8" stroke="#2a2a2a" stroke-width="1.0" />
<line x1="357.9" y1="314.2" x2="357.9" y2="339.6" stroke="#2a2a2a" stroke-width="1.0" />
<line x1="354.0" y1="314.2" x2="361.8" y2="314.2" stroke="#2a2a2a" stroke-width="1.0" />
<line x1="354.0" y1="339.6" x2="361.8" y2="339.6" stroke="#2a2a2a" stroke-width="1.0" />
<line x1="374.0" y1="330.6" x2="374.0" y2="340.8" stroke="#2a2a2a" stroke-width="1.0" />
<line x1="370.1" y1="330.6" x2="377.9" y2="330.6" stroke="#2a2a2a" stroke-width="1.0" />
<line x1="370.1" y1="340.8" x2="377.9" y2="340.8" stroke="#2a2a2a" stroke-width="1.0" />
<line x1="389.9" y1="326.9" x2="389.9" y2="335.3" stroke="#2a2a2a" stroke-width="1.0" />
<line x1="386.0" y1="326.9" x2="393.8" y2="326.9" stroke="#2a2a2a" stroke-width="1.0" />
<line x1="386.0" y1="335.3" x2="393.8" y2="335.3" stroke="#2a2a2a" stroke-width="1.0" />
<line x1="406.2" y1="318.7" x2="406.2" y2="335.7" stroke="#2a2a2a" stroke-width="1.0" />
<line x1="402.3" y1="318.7" x2="410.1" y2="318.7" stroke="#2a2a2a" stroke-width="1.0" />
<line x1="402.3" y1="335.7" x2="410.1" y2="335.7" stroke="#2a2a2a" stroke-width="1.0" />
<line x1="422.1" y1="308.6" x2="422.1" y2="330.6" stroke="#2a2a2a" stroke-width="1.0" />
<line x1="418.2" y1="308.6" x2="426.0" y2="308.6" stroke="#2a2a2a" stroke-width="1.0" />
<line x1="418.2" y1="330.6" x2="426.0" y2="330.6" stroke="#2a2a2a" stroke-width="1.0" />
<line x1="438.2" y1="308.6" x2="438.2" y2="330.6" stroke="#2a2a2a" stroke-width="1.0" />
<line x1="434.3" y1="308.6" x2="442.1" y2="308.6" stroke="#2a2a2a" stroke-width="1.0" />
<line x1="434.3" y1="330.6" x2="442.1" y2="330.6" stroke="#2a2a2a" stroke-width="1.0" />
<line x1="454.3" y1="304.3" x2="454.3" y2="335.5" stroke="#2a2a2a" stroke-width="1.0" />
<line x1="450.4" y1="304.3" x2="458.2" y2="304.3" stroke="#2a2a2a" stroke-width="1.0" />
<line x1="450.4" y1="335.5" x2="458.2" y2="335.5" stroke="#2a2a2a" stroke-width="1.0" />
<line x1="470.3" y1="328.1" x2="470.3" y2="343.6" stroke="#2a2a2a" stroke-width="1.0" />
<line x1="466.4" y1="328.1" x2="474.2" y2="328.1" stroke="#2a2a2a" stroke-width="1.0" />
<line x1="466.4" y1="343.6" x2="474.2" y2="343.6" stroke="#2a2a2a" stroke-width="1.0" />
<line x1="486.4" y1="326.0" x2="486.4" y2="336.8" stroke="#2a2a2a" stroke-width="1.0" />
<line x1="482.5" y1="326.0" x2="490.3" y2="326.0" stroke="#2a2a2a" stroke-width="1.0" />
<line x1="482.5" y1="336.8" x2="490.3" y2="336.8" stroke="#2a2a2a" stroke-width="1.0" />
<line x1="502.5" y1="314.5" x2="502.5" y2="347.7" stroke="#2a2a2a" stroke-width="1.0" />
<line x1="498.6" y1="314.5" x2="506.4" y2="314.5" stroke="#2a2a2a" stroke-width="1.0" />
<line x1="498.6" y1="347.7" x2="506.4" y2="347.7" stroke="#2a2a2a" stroke-width="1.0" />
<line x1="518.4" y1="321.6" x2="518.4" y2="345.6" stroke="#2a2a2a" stroke-width="1.0" />
<line x1="514.5" y1="321.6" x2="522.3" y2="321.6" stroke="#2a2a2a" stroke-width="1.0" />
<line x1="514.5" y1="345.6" x2="522.3" y2="345.6" stroke="#2a2a2a" stroke-width="1.0" />
<circle cx="328.9" cy="311.9" r="4.0" fill="#fff" stroke="#151515" stroke-width="1.2"/>
<circle cx="342.1" cy="315.0" r="4.0" fill="#fff" stroke="#151515" stroke-width="1.2"/>
<circle cx="357.9" cy="326.9" r="4.0" fill="#fff" stroke="#151515" stroke-width="1.2"/>
<circle cx="374.0" cy="335.7" r="4.0" fill="#fff" stroke="#151515" stroke-width="1.2"/>
<circle cx="389.9" cy="330.9" r="4.0" fill="#fff" stroke="#151515" stroke-width="1.2"/>
<circle cx="406.2" cy="327.2" r="4.0" fill="#fff" stroke="#151515" stroke-width="1.2"/>
<circle cx="422.1" cy="319.6" r="4.0" fill="#fff" stroke="#151515" stroke-width="1.2"/>
<circle cx="438.2" cy="319.6" r="4.0" fill="#fff" stroke="#151515" stroke-width="1.2"/>
<circle cx="454.3" cy="319.9" r="4.0" fill="#fff" stroke="#151515" stroke-width="1.2"/>
<circle cx="470.3" cy="336.0" r="4.0" fill="#fff" stroke="#151515" stroke-width="1.2"/>
<circle cx="486.4" cy="331.4" r="4.0" fill="#fff" stroke="#151515" stroke-width="1.2"/>
<circle cx="502.5" cy="331.1" r="4.0" fill="#fff" stroke="#151515" stroke-width="1.2"/>
<circle cx="518.4" cy="333.6" r="4.0" fill="#fff" stroke="#151515" stroke-width="1.2"/>
<line x1="520.3" y1="333.2" x2="549.7" y2="322.8" stroke="#222" stroke-width="0.8" />
<line x1="543.4" y1="327.6" x2="549.7" y2="322.8" stroke="#222" stroke-width="0.8" />
<line x1="541.8" y1="323.0" x2="549.7" y2="322.8" stroke="#222" stroke-width="0.8" />
<line x1="520.3" y1="343.2" x2="557.4" y2="374.7" stroke="#222" stroke-width="0.8" />
<line x1="550.1" y1="371.7" x2="557.4" y2="374.7" stroke="#222" stroke-width="0.8" />
<line x1="553.2" y1="368.0" x2="557.4" y2="374.7" stroke="#222" stroke-width="0.8" />
<circle cx="555.5" cy="323.5" r="3.7" fill="#fff" stroke="#151515" stroke-width="1.0"/>
<circle cx="548.5" cy="391.6" r="3.9" fill="#999" stroke="#151515" stroke-width="1.0"/>
<text x="567.2" y="314.4" font-size="17.2" font-weight="bold" fill="#0c0c0c" textLength="106.1" lengthAdjust="spacingAndGlyphs">LPS-RS alone</text>
<text x="604.8" y="397.4" font-size="17.2" font-weight="bold" fill="#0c0c0c" textLength="100.6" lengthAdjust="spacingAndGlyphs">+ Glyphosate</text>
<path d="M563.3 318.5 L563.6 355" stroke="#b1684e" stroke-width="1.9" fill="none" />
<path d="M552 334 L563 333.6 L578.8 333.6 C583 335 585.5 350 588 362 C590 372 592 381 594.7 382.7 C598.5 382 603 360 610 341 C613 335 616.5 333 620.8 331.8 C627 330 633 329 639.4 328.3" stroke="#b1684e" stroke-width="1.9" fill="none" />
<path d="M550.6 333.6 L562 333.6" stroke="#111" stroke-width="2.3" fill="none" stroke-dasharray="6 1.5"/>
<path d="M563.3 325.5 L563.3 345.7" stroke="#111" stroke-width="2.3" fill="none" stroke-dasharray="9 2"/>
<path d="M564 333.3 L578.8 333.6 C583.5 335.5 586.5 348 589 358 C591 366 593 370 596 370.6 C600 370 604.5 356 610.5 341.5 C613.5 335.5 616.5 333.5 621 332.2 C627 330.5 633 329.6 637 329" stroke="#111" stroke-width="2.6" fill="none" stroke-dasharray="6.5 2.2"/>
<path d="M551 401 L562 401 L563.2 371 L563.6 404 C564 408 565 408 566.5 405 C568 401.5 569.5 400.5 570.8 401.5 C575 406 579 437 584.3 446 C587 447 589 441 592 438 C595 431 598 426 602 421.9 C607 417 612 414 617.7 411.8 C624 409 631 406.5 637.9 404.5" stroke="#b1684e" stroke-width="1.9" fill="none" />
<path d="M550.6 401.4 L561.5 401.4" stroke="#111" stroke-width="2.3" fill="none" stroke-dasharray="5 1.5"/>
<path d="M562.2 363.6 L562.2 407" stroke="#111" stroke-width="2.5" fill="none" stroke-dasharray="12 1.5 9 1.5"/>
<path d="M563.5 406.5 C564.5 408.5 565.5 407.5 566.8 404.5 C568.2 401.2 569.6 400.3 571 401.6 C575.5 406.5 580.5 428 585 436 C586.5 438.5 587.8 439.3 589 439 C592 438.5 594 434 596 430 C598 426 600 424 602 421.9 C607 417.2 612 414.2 617.7 411.9 C624 409.2 629 407.5 634 406" stroke="#111" stroke-width="2.6" fill="none" stroke-dasharray="7.5 2.2"/>
<text x="1.7" y="506.0" font-size="18.6" font-weight="bold" fill="#0c0c0c">C</text>
<line x1="71.1" y1="514.7" x2="71.1" y2="784.9" stroke="#1a1a1a" stroke-width="1.3" />
<line x1="70.5" y1="784.3" x2="542.0" y2="784.3" stroke="#1a1a1a" stroke-width="1.3" />
<text x="62.2" y="790.2" font-size="16" font-weight="bold" fill="#0c0c0c" text-anchor="end">0</text>
<line x1="71.1" y1="737.0" x2="78.7" y2="737.0" stroke="#1a1a1a" stroke-width="1.3" />
<text x="62.2" y="742.9" font-size="16" font-weight="bold" fill="#0c0c0c" text-anchor="end">50</text>
<line x1="71.1" y1="689.7" x2="78.7" y2="689.7" stroke="#1a1a1a" stroke-width="1.3" />
<text x="62.2" y="695.6" font-size="16" font-weight="bold" fill="#0c0c0c" text-anchor="end">100</text>
<line x1="71.1" y1="642.4" x2="78.7" y2="642.4" stroke="#1a1a1a" stroke-width="1.3" />
<text x="62.2" y="648.3" font-size="16" font-weight="bold" fill="#0c0c0c" text-anchor="end">150</text>
<line x1="71.1" y1="595.1" x2="78.7" y2="595.1" stroke="#1a1a1a" stroke-width="1.3" />
<text x="62.2" y="601.0" font-size="16" font-weight="bold" fill="#0c0c0c" text-anchor="end">200</text>
<line x1="71.1" y1="547.8" x2="78.7" y2="547.8" stroke="#1a1a1a" stroke-width="1.3" />
<text x="62.2" y="553.7" font-size="16" font-weight="bold" fill="#0c0c0c" text-anchor="end">250</text>
<line x1="121.2" y1="784.3" x2="121.2" y2="776.7" stroke="#1a1a1a" stroke-width="1.3" />
<text x="121.2" y="808.6" font-size="16" font-weight="bold" fill="#0c0c0c" text-anchor="middle">-60</text>
<line x1="188.6" y1="784.3" x2="188.6" y2="776.7" stroke="#1a1a1a" stroke-width="1.3" />
<text x="188.6" y="808.6" font-size="16" font-weight="bold" fill="#0c0c0c" text-anchor="middle">-40</text>
<line x1="255.9" y1="784.3" x2="255.9" y2="776.7" stroke="#1a1a1a" stroke-width="1.3" />
<text x="255.9" y="808.6" font-size="16" font-weight="bold" fill="#0c0c0c" text-anchor="middle">-20</text>
<line x1="323.3" y1="784.3" x2="323.3" y2="776.7" stroke="#1a1a1a" stroke-width="1.3" />
<text x="323.3" y="808.6" font-size="16" font-weight="bold" fill="#0c0c0c" text-anchor="middle">0</text>
<line x1="390.7" y1="784.3" x2="390.7" y2="776.7" stroke="#1a1a1a" stroke-width="1.3" />
<text x="390.7" y="808.6" font-size="16" font-weight="bold" fill="#0c0c0c" text-anchor="middle">20</text>
<line x1="458.0" y1="784.3" x2="458.0" y2="776.7" stroke="#1a1a1a" stroke-width="1.3" />
<text x="458.0" y="808.6" font-size="16" font-weight="bold" fill="#0c0c0c" text-anchor="middle">40</text>
<line x1="525.4" y1="784.3" x2="525.4" y2="776.7" stroke="#1a1a1a" stroke-width="1.3" />
<text x="525.4" y="808.6" font-size="16" font-weight="bold" fill="#0c0c0c" text-anchor="middle">60</text>
<text x="19.2" y="705.4" font-size="16.8" font-weight="bold" fill="#0c0c0c" textLength="123.9" lengthAdjust="spacingAndGlyphs" transform="rotate(-90 19.2 705.4)">EPEP Slope (%)</text>
<text x="443.8" y="824.6" font-size="17.0" font-weight="bold" fill="#0c0c0c" textLength="84.4" lengthAdjust="spacingAndGlyphs">Time (min)</text>
<rect x="129.7" y="587.0" width="193.8" height="4.6" fill="#fff" stroke="#1a1a1a" stroke-width="1.2"/>
<text x="161.5" y="617.0" font-size="17.2" font-weight="bold" fill="#0c0c0c" textLength="111.0" lengthAdjust="spacingAndGlyphs">1 µM TAK-242</text>
<rect x="221.5" y="736.5" width="103.4" height="9.3" fill="#111"/>
<text x="165.0" y="768.1" font-size="17.2" font-weight="bold" fill="#0c0c0c" textLength="152.3" lengthAdjust="spacingAndGlyphs">100 µM Glyphosate</text>
<line x1="324.0" y1="750.3" x2="324.0" y2="715.8" stroke="#1a1a1a" stroke-width="1.2" />
<path d="M320.3 728.5 L324 716.0 L327.7 728.5" stroke="#1a1a1a" stroke-width="1.2" fill="none" stroke-linejoin="round"/>
<text x="333.6" y="734.2" font-size="17.2" font-weight="bold" fill="#0c0c0c" textLength="32.3" lengthAdjust="spacingAndGlyphs">HFS</text>
<line x1="121.5" y1="695.7" x2="121.5" y2="704.2" stroke="#3a3a3a" stroke-width="1.0" />
<line x1="117.6" y1="695.7" x2="125.4" y2="695.7" stroke="#3a3a3a" stroke-width="1.0" />
<line x1="117.6" y1="704.2" x2="125.4" y2="704.2" stroke="#3a3a3a" stroke-width="1.0" />
<line x1="138.3" y1="698.7" x2="138.3" y2="709.2" stroke="#3a3a3a" stroke-width="1.0" />
<line x1="134.4" y1="698.7" x2="142.2" y2="698.7" stroke="#3a3a3a" stroke-width="1.0" />
<line x1="134.4" y1="709.2" x2="142.2" y2="709.2" stroke="#3a3a3a" stroke-width="1.0" />
<line x1="155.1" y1="696.7" x2="155.1" y2="700.7" stroke="#3a3a3a" stroke-width="1.0" />
<line x1="151.2" y1="700.7" x2="159.0" y2="700.7" stroke="#3a3a3a" stroke-width="1.0" />
<line x1="172.0" y1="696.7" x2="172.0" y2="701.0" stroke="#3a3a3a" stroke-width="1.0" />
<line x1="168.1" y1="701.0" x2="175.9" y2="701.0" stroke="#3a3a3a" stroke-width="1.0" />
<line x1="205.5" y1="696.7" x2="205.5" y2="700.7" stroke="#3a3a3a" stroke-width="1.0" />
<line x1="201.6" y1="700.7" x2="209.4" y2="700.7" stroke="#3a3a3a" stroke-width="1.0" />
<line x1="222.3" y1="700.7" x2="222.3" y2="712.5" stroke="#3a3a3a" stroke-width="1.0" />
<line x1="218.4" y1="700.7" x2="226.2" y2="700.7" stroke="#3a3a3a" stroke-width="1.0" />
<line x1="218.4" y1="712.5" x2="226.2" y2="712.5" stroke="#3a3a3a" stroke-width="1.0" />
<line x1="239.2" y1="704.6" x2="239.2" y2="709.6" stroke="#3a3a3a" stroke-width="1.0" />
<line x1="235.3" y1="709.6" x2="243.1" y2="709.6" stroke="#3a3a3a" stroke-width="1.0" />
<line x1="255.8" y1="704.6" x2="255.8" y2="715.5" stroke="#3a3a3a" stroke-width="1.0" />
<line x1="251.9" y1="704.6" x2="259.7" y2="704.6" stroke="#3a3a3a" stroke-width="1.0" />
<line x1="251.9" y1="715.5" x2="259.7" y2="715.5" stroke="#3a3a3a" stroke-width="1.0" />
<line x1="272.8" y1="707.2" x2="272.8" y2="717.1" stroke="#3a3a3a" stroke-width="1.0" />
<line x1="268.9" y1="707.2" x2="276.7" y2="707.2" stroke="#3a3a3a" stroke-width="1.0" />
<line x1="268.9" y1="717.1" x2="276.7" y2="717.1" stroke="#3a3a3a" stroke-width="1.0" />
<line x1="289.6" y1="703.2" x2="289.6" y2="707.6" stroke="#3a3a3a" stroke-width="1.0" />
<line x1="285.7" y1="707.6" x2="293.5" y2="707.6" stroke="#3a3a3a" stroke-width="1.0" />
<line x1="306.4" y1="702.6" x2="306.4" y2="715.1" stroke="#3a3a3a" stroke-width="1.0" />
<line x1="302.5" y1="702.6" x2="310.3" y2="702.6" stroke="#3a3a3a" stroke-width="1.0" />
<line x1="302.5" y1="715.1" x2="310.3" y2="715.1" stroke="#3a3a3a" stroke-width="1.0" />
<line x1="323.0" y1="705.6" x2="323.0" y2="712.5" stroke="#3a3a3a" stroke-width="1.0" />
<line x1="319.1" y1="705.6" x2="326.9" y2="705.6" stroke="#3a3a3a" stroke-width="1.0" />
<line x1="319.1" y1="712.5" x2="326.9" y2="712.5" stroke="#3a3a3a" stroke-width="1.0" />
<circle cx="104.5" cy="693.3" r="3.65" fill="#999" stroke="#151515" stroke-width="1.2"/>
<circle cx="121.5" cy="700.1" r="3.65" fill="#999" stroke="#151515" stroke-width="1.2"/>
<circle cx="138.3" cy="704.0" r="3.65" fill="#999" stroke="#151515" stroke-width="1.2"/>
<circle cx="155.1" cy="696.7" r="3.65" fill="#999" stroke="#151515" stroke-width="1.2"/>
<circle cx="172.0" cy="696.7" r="3.65" fill="#999" stroke="#151515" stroke-width="1.2"/>
<circle cx="188.8" cy="698.1" r="3.65" fill="#999" stroke="#151515" stroke-width="1.2"/>
<circle cx="205.5" cy="696.7" r="3.65" fill="#999" stroke="#151515" stroke-width="1.2"/>
<circle cx="222.3" cy="707.0" r="3.65" fill="#999" stroke="#151515" stroke-width="1.2"/>
<circle cx="239.2" cy="704.6" r="3.65" fill="#999" stroke="#151515" stroke-width="1.2"/>
<circle cx="255.8" cy="710.1" r="3.65" fill="#999" stroke="#151515" stroke-width="1.2"/>
<circle cx="272.8" cy="712.1" r="3.65" fill="#999" stroke="#151515" stroke-width="1.2"/>
<circle cx="289.6" cy="703.2" r="3.65" fill="#999" stroke="#151515" stroke-width="1.2"/>
<circle cx="306.4" cy="708.6" r="3.65" fill="#999" stroke="#151515" stroke-width="1.2"/>
<circle cx="323.0" cy="709.0" r="3.65" fill="#999" stroke="#151515" stroke-width="1.2"/>
<line x1="71.1" y1="689.8" x2="542.0" y2="689.8" stroke="#1a1a1a" stroke-width="1.2" />
<line x1="121.5" y1="688.2" x2="121.5" y2="692.1" stroke="#2a2a2a" stroke-width="1.0" />
<line x1="117.6" y1="688.2" x2="125.4" y2="688.2" stroke="#2a2a2a" stroke-width="1.0" />
<line x1="172.0" y1="684.8" x2="172.0" y2="689.8" stroke="#2a2a2a" stroke-width="1.0" />
<line x1="168.1" y1="684.8" x2="175.9" y2="684.8" stroke="#2a2a2a" stroke-width="1.0" />
<line x1="205.5" y1="688.8" x2="205.5" y2="698.7" stroke="#2a2a2a" stroke-width="1.0" />
<line x1="201.6" y1="688.8" x2="209.4" y2="688.8" stroke="#2a2a2a" stroke-width="1.0" />
<line x1="201.6" y1="698.7" x2="209.4" y2="698.7" stroke="#2a2a2a" stroke-width="1.0" />
<line x1="222.3" y1="685.8" x2="222.3" y2="698.7" stroke="#2a2a2a" stroke-width="1.0" />
<line x1="218.4" y1="685.8" x2="226.2" y2="685.8" stroke="#2a2a2a" stroke-width="1.0" />
<line x1="218.4" y1="698.7" x2="226.2" y2="698.7" stroke="#2a2a2a" stroke-width="1.0" />
<line x1="255.8" y1="689.8" x2="255.8" y2="694.7" stroke="#2a2a2a" stroke-width="1.0" />
<line x1="251.9" y1="689.8" x2="259.7" y2="689.8" stroke="#2a2a2a" stroke-width="1.0" />
<line x1="272.8" y1="694.7" x2="272.8" y2="698.3" stroke="#2a2a2a" stroke-width="1.0" />
<line x1="268.9" y1="694.7" x2="276.7" y2="694.7" stroke="#2a2a2a" stroke-width="1.0" />
<line x1="289.6" y1="691.4" x2="289.6" y2="695.7" stroke="#2a2a2a" stroke-width="1.0" />
<line x1="285.7" y1="691.4" x2="293.5" y2="691.4" stroke="#2a2a2a" stroke-width="1.0" />
<line x1="306.4" y1="685.4" x2="306.4" y2="698.3" stroke="#2a2a2a" stroke-width="1.0" />
<line x1="302.5" y1="685.4" x2="310.3" y2="685.4" stroke="#2a2a2a" stroke-width="1.0" />
<line x1="302.5" y1="698.3" x2="310.3" y2="698.3" stroke="#2a2a2a" stroke-width="1.0" />
<line x1="323.0" y1="689.8" x2="323.0" y2="697.7" stroke="#2a2a2a" stroke-width="1.0" />
<line x1="319.1" y1="689.8" x2="326.9" y2="689.8" stroke="#2a2a2a" stroke-width="1.0" />
<circle cx="91.3" cy="689.8" r="3.65" fill="#fff" stroke="#151515" stroke-width="1.2"/>
<circle cx="104.5" cy="690.4" r="3.65" fill="#fff" stroke="#151515" stroke-width="1.2"/>
<circle cx="121.5" cy="692.1" r="3.65" fill="#fff" stroke="#151515" stroke-width="1.2"/>
<circle cx="138.3" cy="692.1" r="3.65" fill="#fff" stroke="#151515" stroke-width="1.2"/>
<circle cx="155.1" cy="689.4" r="3.65" fill="#fff" stroke="#151515" stroke-width="1.2"/>
<circle cx="172.0" cy="689.8" r="3.65" fill="#fff" stroke="#151515" stroke-width="1.2"/>
<circle cx="188.8" cy="694.1" r="3.65" fill="#fff" stroke="#151515" stroke-width="1.2"/>
<circle cx="205.5" cy="694.1" r="3.65" fill="#fff" stroke="#151515" stroke-width="1.2"/>
<circle cx="222.3" cy="692.1" r="3.65" fill="#fff" stroke="#151515" stroke-width="1.2"/>
<circle cx="239.2" cy="699.3" r="3.65" fill="#fff" stroke="#151515" stroke-width="1.2"/>
<circle cx="255.8" cy="694.7" r="3.65" fill="#fff" stroke="#151515" stroke-width="1.2"/>
<circle cx="272.8" cy="698.3" r="3.65" fill="#fff" stroke="#151515" stroke-width="1.2"/>
<circle cx="289.6" cy="695.7" r="3.65" fill="#fff" stroke="#151515" stroke-width="1.2"/>
<circle cx="306.4" cy="691.8" r="3.65" fill="#fff" stroke="#151515" stroke-width="1.2"/>
<circle cx="323.0" cy="697.7" r="3.65" fill="#fff" stroke="#151515" stroke-width="1.2"/>
<line x1="326.6" y1="517.7" x2="326.6" y2="567.2" stroke="#3a3a3a" stroke-width="1.0" />
<line x1="322.7" y1="517.7" x2="330.5" y2="517.7" stroke="#3a3a3a" stroke-width="1.0" />
<line x1="322.7" y1="567.2" x2="330.5" y2="567.2" stroke="#3a3a3a" stroke-width="1.0" />
<line x1="340.2" y1="601.5" x2="340.2" y2="618.5" stroke="#3a3a3a" stroke-width="1.0" />
<line x1="336.3" y1="601.5" x2="344.1" y2="601.5" stroke="#3a3a3a" stroke-width="1.0" />
<line x1="336.3" y1="618.5" x2="344.1" y2="618.5" stroke="#3a3a3a" stroke-width="1.0" />
<line x1="356.8" y1="631.2" x2="356.8" y2="648.8" stroke="#3a3a3a" stroke-width="1.0" />
<line x1="352.9" y1="631.2" x2="360.7" y2="631.2" stroke="#3a3a3a" stroke-width="1.0" />
<line x1="352.9" y1="648.8" x2="360.7" y2="648.8" stroke="#3a3a3a" stroke-width="1.0" />
<line x1="373.6" y1="650.5" x2="373.6" y2="667.5" stroke="#3a3a3a" stroke-width="1.0" />
<line x1="369.7" y1="650.5" x2="377.5" y2="650.5" stroke="#3a3a3a" stroke-width="1.0" />
<line x1="369.7" y1="667.5" x2="377.5" y2="667.5" stroke="#3a3a3a" stroke-width="1.0" />
<line x1="390.3" y1="659.5" x2="390.3" y2="667.5" stroke="#3a3a3a" stroke-width="1.0" />
<line x1="386.4" y1="659.5" x2="394.2" y2="659.5" stroke="#3a3a3a" stroke-width="1.0" />
<line x1="386.4" y1="667.5" x2="394.2" y2="667.5" stroke="#3a3a3a" stroke-width="1.0" />
<line x1="407.3" y1="642.7" x2="407.3" y2="655.3" stroke="#3a3a3a" stroke-width="1.0" />
<line x1="403.4" y1="642.7" x2="411.2" y2="642.7" stroke="#3a3a3a" stroke-width="1.0" />
<line x1="403.4" y1="655.3" x2="411.2" y2="655.3" stroke="#3a3a3a" stroke-width="1.0" />
<line x1="424.1" y1="647.3" x2="424.1" y2="659.3" stroke="#3a3a3a" stroke-width="1.0" />
<line x1="420.2" y1="647.3" x2="428.0" y2="647.3" stroke="#3a3a3a" stroke-width="1.0" />
<line x1="420.2" y1="659.3" x2="428.0" y2="659.3" stroke="#3a3a3a" stroke-width="1.0" />
<line x1="440.8" y1="645.7" x2="440.8" y2="662.7" stroke="#3a3a3a" stroke-width="1.0" />
<line x1="436.9" y1="645.7" x2="444.7" y2="645.7" stroke="#3a3a3a" stroke-width="1.0" />
<line x1="436.9" y1="662.7" x2="444.7" y2="662.7" stroke="#3a3a3a" stroke-width="1.0" />
<line x1="457.6" y1="647.6" x2="457.6" y2="667.0" stroke="#3a3a3a" stroke-width="1.0" />
<line x1="453.7" y1="647.6" x2="461.5" y2="647.6" stroke="#3a3a3a" stroke-width="1.0" />
<line x1="453.7" y1="667.0" x2="461.5" y2="667.0" stroke="#3a3a3a" stroke-width="1.0" />
<line x1="474.6" y1="648.4" x2="474.6" y2="667.8" stroke="#3a3a3a" stroke-width="1.0" />
<line x1="470.7" y1="648.4" x2="478.5" y2="648.4" stroke="#3a3a3a" stroke-width="1.0" />
<line x1="470.7" y1="667.8" x2="478.5" y2="667.8" stroke="#3a3a3a" stroke-width="1.0" />
<line x1="491.4" y1="650.6" x2="491.4" y2="669.8" stroke="#3a3a3a" stroke-width="1.0" />
<line x1="487.5" y1="650.6" x2="495.3" y2="650.6" stroke="#3a3a3a" stroke-width="1.0" />
<line x1="487.5" y1="669.8" x2="495.3" y2="669.8" stroke="#3a3a3a" stroke-width="1.0" />
<line x1="508.1" y1="652.5" x2="508.1" y2="671.2" stroke="#3a3a3a" stroke-width="1.0" />
<line x1="504.2" y1="652.5" x2="512.0" y2="652.5" stroke="#3a3a3a" stroke-width="1.0" />
<line x1="504.2" y1="671.2" x2="512.0" y2="671.2" stroke="#3a3a3a" stroke-width="1.0" />
<line x1="524.7" y1="652.5" x2="524.7" y2="672.4" stroke="#3a3a3a" stroke-width="1.0" />
<line x1="520.8" y1="652.5" x2="528.6" y2="652.5" stroke="#3a3a3a" stroke-width="1.0" />
<line x1="520.8" y1="672.4" x2="528.6" y2="672.4" stroke="#3a3a3a" stroke-width="1.0" />
<circle cx="326.6" cy="542.7" r="4.0" fill="#999" stroke="#151515" stroke-width="1.2"/>
<circle cx="340.2" cy="610.3" r="4.0" fill="#999" stroke="#151515" stroke-width="1.2"/>
<circle cx="356.8" cy="640.0" r="4.0" fill="#999" stroke="#151515" stroke-width="1.2"/>
<circle cx="373.6" cy="659.0" r="4.0" fill="#999" stroke="#151515" stroke-width="1.2"/>
<circle cx="390.3" cy="663.7" r="4.0" fill="#999" stroke="#151515" stroke-width="1.2"/>
<circle cx="407.3" cy="649.0" r="4.0" fill="#999" stroke="#151515" stroke-width="1.2"/>
<circle cx="424.1" cy="653.3" r="4.0" fill="#999" stroke="#151515" stroke-width="1.2"/>
<circle cx="440.8" cy="654.2" r="4.0" fill="#999" stroke="#151515" stroke-width="1.2"/>
<circle cx="457.6" cy="657.3" r="4.0" fill="#999" stroke="#151515" stroke-width="1.2"/>
<circle cx="474.6" cy="658.1" r="4.0" fill="#999" stroke="#151515" stroke-width="1.2"/>
<circle cx="491.4" cy="660.2" r="4.0" fill="#999" stroke="#151515" stroke-width="1.2"/>
<circle cx="508.1" cy="661.9" r="4.0" fill="#999" stroke="#151515" stroke-width="1.2"/>
<circle cx="524.7" cy="662.4" r="4.0" fill="#999" stroke="#151515" stroke-width="1.2"/>
<line x1="326.6" y1="621.4" x2="326.6" y2="647.6" stroke="#2a2a2a" stroke-width="1.0" />
<line x1="322.7" y1="621.4" x2="330.5" y2="621.4" stroke="#2a2a2a" stroke-width="1.0" />
<line x1="322.7" y1="647.6" x2="330.5" y2="647.6" stroke="#2a2a2a" stroke-width="1.0" />
<line x1="340.2" y1="624.7" x2="340.2" y2="639.7" stroke="#2a2a2a" stroke-width="1.0" />
<line x1="336.3" y1="624.7" x2="344.1" y2="624.7" stroke="#2a2a2a" stroke-width="1.0" />
<line x1="336.3" y1="639.7" x2="344.1" y2="639.7" stroke="#2a2a2a" stroke-width="1.0" />
<line x1="356.8" y1="636.6" x2="356.8" y2="651.0" stroke="#2a2a2a" stroke-width="1.0" />
<line x1="352.9" y1="636.6" x2="360.7" y2="636.6" stroke="#2a2a2a" stroke-width="1.0" />
<line x1="352.9" y1="651.0" x2="360.7" y2="651.0" stroke="#2a2a2a" stroke-width="1.0" />
<line x1="373.6" y1="637.5" x2="373.6" y2="652.7" stroke="#2a2a2a" stroke-width="1.0" />
<line x1="369.7" y1="637.5" x2="377.5" y2="637.5" stroke="#2a2a2a" stroke-width="1.0" />
<line x1="369.7" y1="652.7" x2="377.5" y2="652.7" stroke="#2a2a2a" stroke-width="1.0" />
<line x1="390.3" y1="637.5" x2="390.3" y2="657.1" stroke="#2a2a2a" stroke-width="1.0" />
<line x1="386.4" y1="637.5" x2="394.2" y2="637.5" stroke="#2a2a2a" stroke-width="1.0" />
<line x1="386.4" y1="657.1" x2="394.2" y2="657.1" stroke="#2a2a2a" stroke-width="1.0" />
<line x1="407.3" y1="629.8" x2="407.3" y2="656.2" stroke="#2a2a2a" stroke-width="1.0" />
<line x1="403.4" y1="629.8" x2="411.2" y2="629.8" stroke="#2a2a2a" stroke-width="1.0" />
<line x1="403.4" y1="656.2" x2="411.2" y2="656.2" stroke="#2a2a2a" stroke-width="1.0" />
<line x1="424.1" y1="625.5" x2="424.1" y2="651.3" stroke="#2a2a2a" stroke-width="1.0" />
<line x1="420.2" y1="625.5" x2="428.0" y2="625.5" stroke="#2a2a2a" stroke-width="1.0" />
<line x1="420.2" y1="651.3" x2="428.0" y2="651.3" stroke="#2a2a2a" stroke-width="1.0" />
<line x1="440.8" y1="622.4" x2="440.8" y2="645.4" stroke="#2a2a2a" stroke-width="1.0" />
<line x1="436.9" y1="622.4" x2="444.7" y2="622.4" stroke="#2a2a2a" stroke-width="1.0" />
<line x1="436.9" y1="645.4" x2="444.7" y2="645.4" stroke="#2a2a2a" stroke-width="1.0" />
<line x1="457.6" y1="635.6" x2="457.6" y2="651.8" stroke="#2a2a2a" stroke-width="1.0" />
<line x1="453.7" y1="635.6" x2="461.5" y2="635.6" stroke="#2a2a2a" stroke-width="1.0" />
<line x1="453.7" y1="651.8" x2="461.5" y2="651.8" stroke="#2a2a2a" stroke-width="1.0" />
<line x1="474.6" y1="638.6" x2="474.6" y2="653.6" stroke="#2a2a2a" stroke-width="1.0" />
<line x1="470.7" y1="638.6" x2="478.5" y2="638.6" stroke="#2a2a2a" stroke-width="1.0" />
<line x1="470.7" y1="653.6" x2="478.5" y2="653.6" stroke="#2a2a2a" stroke-width="1.0" />
<line x1="491.4" y1="637.3" x2="491.4" y2="669.5" stroke="#2a2a2a" stroke-width="1.0" />
<line x1="487.5" y1="637.3" x2="495.3" y2="637.3" stroke="#2a2a2a" stroke-width="1.0" />
<line x1="487.5" y1="669.5" x2="495.3" y2="669.5" stroke="#2a2a2a" stroke-width="1.0" />
<line x1="508.1" y1="624.6" x2="508.1" y2="646.1" stroke="#2a2a2a" stroke-width="1.0" />
<line x1="504.2" y1="624.6" x2="512.0" y2="624.6" stroke="#2a2a2a" stroke-width="1.0" />
<line x1="504.2" y1="646.1" x2="512.0" y2="646.1" stroke="#2a2a2a" stroke-width="1.0" />
<line x1="524.7" y1="635.6" x2="524.7" y2="647.1" stroke="#2a2a2a" stroke-width="1.0" />
<line x1="520.8" y1="635.6" x2="528.6" y2="635.6" stroke="#2a2a2a" stroke-width="1.0" />
<line x1="520.8" y1="647.1" x2="528.6" y2="647.1" stroke="#2a2a2a" stroke-width="1.0" />
<circle cx="326.6" cy="634.6" r="4.0" fill="#fff" stroke="#151515" stroke-width="1.2"/>
<circle cx="340.2" cy="631.5" r="4.0" fill="#fff" stroke="#151515" stroke-width="1.2"/>
<circle cx="356.8" cy="643.9" r="4.0" fill="#fff" stroke="#151515" stroke-width="1.2"/>
<circle cx="373.6" cy="645.1" r="4.0" fill="#fff" stroke="#151515" stroke-width="1.2"/>
<circle cx="390.3" cy="647.3" r="4.0" fill="#fff" stroke="#151515" stroke-width="1.2"/>
<circle cx="407.3" cy="643.0" r="4.0" fill="#fff" stroke="#151515" stroke-width="1.2"/>
<circle cx="424.1" cy="638.4" r="4.0" fill="#fff" stroke="#151515" stroke-width="1.2"/>
<circle cx="440.8" cy="633.9" r="4.0" fill="#fff" stroke="#151515" stroke-width="1.2"/>
<circle cx="457.6" cy="643.7" r="4.0" fill="#fff" stroke="#151515" stroke-width="1.2"/>
<circle cx="474.6" cy="646.1" r="4.0" fill="#fff" stroke="#151515" stroke-width="1.2"/>
<circle cx="491.4" cy="653.4" r="4.0" fill="#fff" stroke="#151515" stroke-width="1.2"/>
<circle cx="508.1" cy="635.3" r="4.0" fill="#fff" stroke="#151515" stroke-width="1.2"/>
<circle cx="524.7" cy="641.2" r="4.0" fill="#fff" stroke="#151515" stroke-width="1.2"/>
<line x1="539.2" y1="638.3" x2="555.3" y2="597.0" stroke="#999" stroke-width="0.8" />
<line x1="554.9" y1="604.4" x2="555.3" y2="597.0" stroke="#999" stroke-width="0.8" />
<line x1="550.6" y1="602.7" x2="555.3" y2="597.0" stroke="#999" stroke-width="0.8" />
<line x1="539.2" y1="664.3" x2="557.6" y2="683.3" stroke="#999" stroke-width="0.8" />
<line x1="551.1" y1="679.9" x2="557.6" y2="683.3" stroke="#999" stroke-width="0.8" />
<line x1="554.4" y1="676.7" x2="557.6" y2="683.3" stroke="#999" stroke-width="0.8" />
<circle cx="561.5" cy="593.3" r="4.1" fill="#fff" stroke="#151515" stroke-width="1.0"/>
<circle cx="561.8" cy="690.7" r="4.1" fill="#c0c0c0" stroke="#151515" stroke-width="1.0"/>
<text x="579.6" y="582.8" font-size="17.2" font-weight="bold" fill="#0c0c0c" textLength="112.0" lengthAdjust="spacingAndGlyphs">TAK-242 alone</text>
<text x="592.8" y="692.5" font-size="17.2" font-weight="bold" fill="#0c0c0c" textLength="101.4" lengthAdjust="spacingAndGlyphs">+ Glyphosate</text>
<path d="M575.2 570 L575.0 640 L574.2 700 C574.0 704.5 574.3 707.2 575.6 707.0 C578.5 706 580.5 701.6 583.2 701.2 C586.5 701 588.8 704 591 708.2 C594.5 720 598 744.5 602.6 748.4 C607 747.5 611 733 617.2 722.4 C622.5 716 628 713 635.2 710 C641 707.5 647 705.7 653.3 704.4 L653.3 699.9" stroke="#b1684e" stroke-width="1.9" fill="none" />
<path d="M575.6 606 C575.8 600.5 576.4 598.6 577.6 598.6 C582 599.6 585.5 604 588 609.6 C591.5 622 594 652 598.3 657.8 C602 656 606.5 638 612.7 625.4 C616.5 617 619.5 610 624 606.4 C627.5 604 631 603.2 635.2 602.9 C641 602.5 647 602.3 653.3 602.2" stroke="#b1684e" stroke-width="1.9" fill="none" />
<path d="M573.0 570.5 L572.9 661" stroke="#111" stroke-width="2.7" fill="none" />
<path d="M571.6 668 L571.3 698.5 L572.6 701.5" stroke="#111" stroke-width="2.5" fill="none" />
<path d="M575.3 601 L575.0 660" stroke="#111" stroke-width="1.6" fill="none" stroke-dasharray="8 2.5"/>
<path d="M573.6 668 L573.0 697" stroke="#111" stroke-width="1.3" fill="none" stroke-dasharray="6 3"/>
<rect x="570.4" y="660.8" width="5.6" height="8.2" fill="#111"/>
<path d="M559 603 L571.5 603" stroke="#111" stroke-width="2.4" fill="none" stroke-dasharray="6 1.6"/>
<path d="M577.9 600.0 C582.5 600.8 586.5 605.5 589.3 610.8 C592 617 593.5 623 595.1 628.9 C597 634 599.5 636.8 602.5 637.2 C606.5 636 609.5 630 612.3 625.6 C616 620.5 619 617 622.1 614.1 C626 611.3 630 609.3 635.2 607.4 C640 605.6 645 604.2 651 603.3" stroke="#111" stroke-width="2.4" fill="none" stroke-dasharray="9 3"/>
<path d="M559.8 698.5 L570 698.5" stroke="#111" stroke-width="2.4" fill="none" stroke-dasharray="6 1.6"/>
<path d="M579.5 700.3 C582 699.4 584 699.3 585.2 699.7 C587.5 700.8 589.3 703 591 705.9 C593 710 594 714 595.3 718 C598 728 600.5 735.5 604.1 736.6 C609 735.5 613.5 724 619.4 715.7 C624 710.8 629 708 635.2 705.5 C641 703.3 647 701.5 653.3 699.9" stroke="#111" stroke-width="2.4" fill="none" stroke-dasharray="9 3"/>
<path d="M584.5 749.5 L584.5 771 L600.5 771" stroke="#111" stroke-width="2.0" fill="none" />
<text x="5.9" y="832.6" font-size="18" font-weight="bold" fill="#0c0c0c">D</text>
<text x="40.0" y="831.9" font-size="16.4" font-weight="bold" fill="#0c0c0c" textLength="106.4" lengthAdjust="spacingAndGlyphs">LTP summary</text>
<line x1="220.2" y1="840.2" x2="548.4" y2="840.2" stroke="#333" stroke-width="1.1" />
<line x1="548.4" y1="840.2" x2="548.4" y2="920.8" stroke="#333" stroke-width="1.1" />
<line x1="302.1" y1="840.2" x2="302.1" y2="920.8" stroke="#555" stroke-width="1.0" />
<line x1="304.8" y1="850.1" x2="316.8" y2="850.1" stroke="#222" stroke-width="1.2" />
<line x1="316.8" y1="846.8" x2="316.8" y2="853.4" stroke="#222" stroke-width="1.2" />
<rect x="220.2" y="844.4" width="84.6" height="11.4" fill="#111" stroke="#222" stroke-width="1.2"/>
<line x1="428.8" y1="870.7" x2="448.1" y2="870.7" stroke="#222" stroke-width="1.2" />
<line x1="448.1" y1="866.9" x2="448.1" y2="874.5" stroke="#222" stroke-width="1.2" />
<rect x="220.2" y="864.7" width="208.6" height="11.9" fill="#d2d2d2" stroke="#222" stroke-width="1.2"/>
<line x1="418.6" y1="890.8" x2="436.4" y2="890.8" stroke="#222" stroke-width="1.2" />
<line x1="436.4" y1="887.0" x2="436.4" y2="894.6" stroke="#222" stroke-width="1.2" />
<rect x="220.2" y="885.1" width="198.4" height="11.4" fill="#d2d2d2" stroke="#222" stroke-width="1.2"/>
<line x1="428.3" y1="911.3" x2="433.4" y2="911.3" stroke="#222" stroke-width="1.2" />
<line x1="433.4" y1="907.5" x2="433.4" y2="915.1" stroke="#222" stroke-width="1.2" />
<rect x="220.2" y="905.9" width="208.1" height="10.9" fill="#d2d2d2" stroke="#222" stroke-width="1.2"/>
<line x1="220.2" y1="839.7" x2="220.2" y2="924.6" stroke="#1a1a1a" stroke-width="1.3" />
<line x1="219.6" y1="920.8" x2="548.9" y2="920.8" stroke="#1a1a1a" stroke-width="1.3" />
<text x="220.2" y="948.2" font-size="16" font-weight="bold" fill="#0c0c0c" text-anchor="middle">80</text>
<text x="302.1" y="948.2" font-size="16" font-weight="bold" fill="#0c0c0c" text-anchor="middle">100</text>
<text x="384.0" y="948.2" font-size="16" font-weight="bold" fill="#0c0c0c" text-anchor="middle">120</text>
<text x="465.9" y="948.2" font-size="16" font-weight="bold" fill="#0c0c0c" text-anchor="middle">140</text>
<text x="547.8" y="948.2" font-size="16" font-weight="bold" fill="#0c0c0c" text-anchor="middle">160</text>
<line x1="261.1" y1="920.8" x2="261.1" y2="924.6" stroke="#333" stroke-width="1.1" />
<line x1="302.1" y1="920.8" x2="302.1" y2="924.6" stroke="#333" stroke-width="1.1" />
<line x1="343.0" y1="920.8" x2="343.0" y2="924.6" stroke="#333" stroke-width="1.1" />
<line x1="384.0" y1="920.8" x2="384.0" y2="924.6" stroke="#333" stroke-width="1.1" />
<line x1="424.9" y1="920.8" x2="424.9" y2="924.6" stroke="#333" stroke-width="1.1" />
<line x1="465.9" y1="920.8" x2="465.9" y2="924.6" stroke="#333" stroke-width="1.1" />
<line x1="506.8" y1="920.8" x2="506.8" y2="924.6" stroke="#333" stroke-width="1.1" />
<line x1="547.8" y1="920.8" x2="547.8" y2="924.6" stroke="#333" stroke-width="1.1" />
<text x="314.8" y="969.2" font-size="17.0" font-weight="bold" fill="#0c0c0c" textLength="121.8" lengthAdjust="spacingAndGlyphs">EPSP Slope (%)</text>
<text x="50.2" y="859.1" font-size="17.0" font-weight="bold" fill="#0c0c0c" textLength="140.6" lengthAdjust="spacingAndGlyphs">Glyphosate alone</text>
<text x="65.4" y="876.9" font-size="17.0" font-weight="bold" fill="#0c0c0c" textLength="136.4" lengthAdjust="spacingAndGlyphs">+ Minocycline (7)</text>
<text x="66.2" y="896.5" font-size="17.0" font-weight="bold" fill="#0c0c0c" textLength="100.8" lengthAdjust="spacingAndGlyphs">+ LPS-RS (5)</text>
<text x="63.6" y="917.6" font-size="17.0" font-weight="bold" fill="#0c0c0c" textLength="107.0" lengthAdjust="spacingAndGlyphs">+ TAK-242 (5)</text>
<path d="M429.6 849.6 L539.3 849.6 L539.3 889.6 M539.3 901.2 L539.3 916.1 L527.5 916.1" stroke="#222" stroke-width="1.3" fill="none" />
<path d="M488.8 849.6 L488.8 855.2 M488.8 864.3 L488.8 870.7 L453.7 870.7" stroke="#222" stroke-width="1.3" fill="none" />
<path d="M502.0 849.6 L502.0 879.4 M502.0 888.5 L502.0 892.8 L454.2 892.8" stroke="#222" stroke-width="1.3" fill="none" />
<text x="490.1" y="866.5" font-size="13.5" font-weight="normal" fill="#111" text-anchor="middle">**</text>
<text x="503.3" y="891.0" font-size="13.5" font-weight="normal" fill="#111" text-anchor="middle">**</text>
<text x="537.6" y="902.1" font-size="13.5" font-weight="normal" fill="#111" text-anchor="middle">**</text>
</svg>
</body>
</html>
